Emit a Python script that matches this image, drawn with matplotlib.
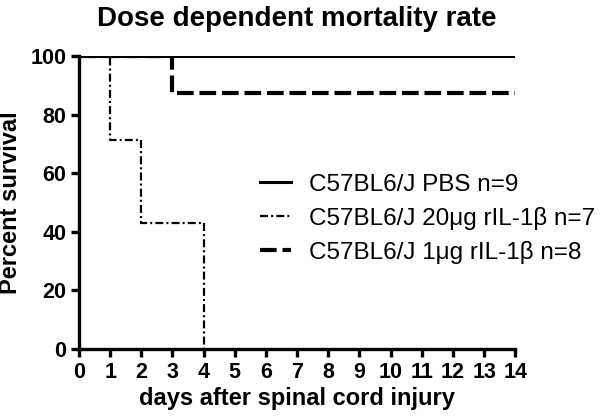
import matplotlib
matplotlib.use("Agg")
import matplotlib.pyplot as plt

days = [0, 1, 2, 3, 4, 14]
pbs = [100, 100, 100, 100, 100, 100]
dose20_days = [0, 1, 2, 3, 4]
dose20 = [100, 71.43, 42.86, 42.86, 0]
dose1 = [100, 100, 100, 87.5, 87.5, 87.5]

labels = ["C57BL6/J PBS n=9",
          "C57BL6/J 20\u03bcg rIL-1\u03b2 n=7",
          "C57BL6/J 1\u03bcg rIL-1\u03b2 n=8"]

plt.rcParams["font.family"] = ["Liberation Sans", "DejaVu Sans"]

fig = plt.figure(figsize=(6, 4.19), dpi=100)
ax = fig.add_axes([0.1317, 0.167, 0.727, 0.699])

ax.step(days, pbs, where="post", color="black", lw=2.2, label=labels[0], zorder=5)
ax.step(dose20_days, dose20, where="post", color="black", lw=1.6,
        dashes=(3.6, 1.4, 0.9, 1.4), label=labels[1], zorder=3)
ax.step(days, dose1, where="post", color="black", lw=3,
        dashes=(4, 1.4), label=labels[2], zorder=4)

ax.set_xlim(0, 14)
ax.set_ylim(0, 100)
ax.set_xticks(range(0, 15))
ax.set_yticks(range(0, 101, 20))
ax.spines["top"].set_visible(False)
ax.spines["right"].set_visible(False)
for s in ("left", "bottom"):
    ax.spines[s].set_linewidth(2.4)
ax.tick_params(width=2.4, length=6, pad=3, labelsize=15.5)
for t in ax.get_xticklabels() + ax.get_yticklabels():
    t.set_fontweight("bold")

ax.set_xlabel("days after spinal cord injury", fontsize=17, fontweight="bold", labelpad=3)
ax.set_ylabel("Percent survival", fontsize=17, fontweight="bold", labelpad=6)
ax.set_title("Dose dependent mortality rate", fontsize=20, fontweight="bold", pad=22)

h, l = ax.get_legend_handles_labels()
ax.legend(h, l, loc="upper left", bbox_to_anchor=(0.433, 0.585),
          bbox_transform=fig.transFigure, frameon=False, fontsize=17.5,
          handlelength=1.3, handletextpad=0.74, labelspacing=0.45,
          borderpad=0, borderaxespad=0)

fig.savefig("out.png", dpi=100)
